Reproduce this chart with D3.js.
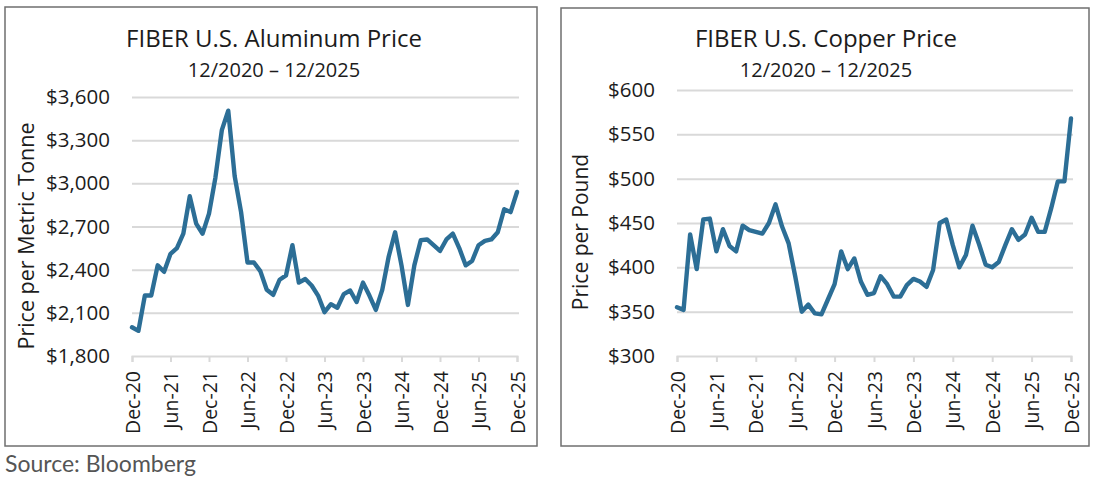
<!DOCTYPE html>
<html>
<head>
<meta charset="utf-8">
<script src="https://cdn.jsdelivr.net/npm/d3@7"></script>
<style>
  body { margin: 0; background: #fff; }
  svg { display: block; }
</style>
</head>
<body>
<div id="charts"></div>
<script>
// month labels Dec-20 .. Dec-25, one per month
const months = d3.timeMonth.range(new Date(2020, 11, 1), new Date(2026, 0, 1)).map(d3.timeFormat("%b-%y"));
const tickLabels = ["Dec-20", "Jun-21", "Dec-21", "Jun-22", "Dec-22", "Jun-23", "Dec-23", "Jun-24", "Dec-24", "Jun-25", "Dec-25"];

// aluminum, $ per metric tonne
const aluminum = [
  2000, 1975, 2220, 2220, 2430, 2385, 2510, 2550, 2650, 2910, 2720, 2650,
  2790, 3040, 3370, 3505, 3050, 2800, 2450, 2450, 2390, 2260, 2225, 2330,
  2360, 2570, 2310, 2335, 2290, 2220, 2105, 2160, 2135, 2230, 2255, 2175,
  2310, 2220, 2120, 2260, 2490, 2660, 2430, 2155, 2430, 2605, 2610, 2570,
  2530, 2610, 2650, 2550, 2430, 2460, 2570, 2600, 2610, 2660, 2820, 2800,
  2940
];
const aluminumTicks = [1800, 2100, 2400, 2700, 3000, 3300, 3600];

// copper, $ per pound
const copper = [
  355, 352, 437, 398, 454, 455, 418, 443, 424, 418, 447, 442,
  440, 438, 450, 471, 446, 427, 390, 350, 358, 348, 347, 364,
  381, 418, 398, 410, 384, 369, 371, 390, 381, 367, 367, 380,
  387, 384, 378, 397, 450, 454, 425, 400, 414, 447, 426, 403,
  400, 406, 425, 443, 431, 437, 456, 440, 440, 467, 497, 497,
  568
];
const copperTicks = [300, 350, 400, 450, 500, 550, 600];

const font = "'Open Sans', 'Liberation Sans', sans-serif";
const ink = "#1c1c1c";

const svg = d3.select("#charts").append("svg")
  .attr("width", 1100)
  .attr("height", 487);

function drawPanel(opts) {
  const g = svg.append("g");

  // panel frame
  g.append("rect")
    .attr("x", opts.box[0]).attr("y", opts.box[1])
    .attr("width", opts.box[2]).attr("height", opts.box[3])
    .attr("fill", "none")
    .attr("stroke", "#6f6f6f")
    .attr("stroke-width", 1.5);

  const x = d3.scalePoint().domain(months).range(opts.xr);
  const y = d3.scaleLinear().domain(d3.extent(opts.ticks)).range(opts.yr);

  // gridlines + y labels
  const yAxis = g.append("g")
    .attr("transform", "translate(" + opts.xr[0] + ",0)")
    .call(d3.axisLeft(y).tickValues(opts.ticks)
      .tickSize(-(opts.xr[1] - opts.xr[0] + 2))
      .tickPadding(22)
      .tickFormat(d3.format("$,")));
  yAxis.select(".domain").remove();
  yAxis.selectAll(".tick line")
    .attr("stroke", "#d9d9d9").attr("stroke-width", 2)
    .filter(d => d === opts.ticks[0]).remove();
  yAxis.selectAll(".tick text")
    .attr("fill", ink)
    .style("font-family", font)
    .style("font-size", "20.5px");

  // x axis
  const xAxis = g.append("g")
    .attr("transform", "translate(0," + opts.yr[0] + ")")
    .call(d3.axisBottom(x).tickValues(tickLabels).tickSize(6).tickPadding(0));
  xAxis.select(".domain").attr("stroke", "#d9d9d9").attr("stroke-width", 2);
  xAxis.selectAll(".tick line").attr("stroke", "#d9d9d9").attr("stroke-width", 2);
  xAxis.selectAll(".tick text")
    .attr("fill", ink)
    .style("font-family", font)
    .style("font-size", "19.5px")
    .attr("transform", "rotate(-90)")
    .attr("text-anchor", "end")
    .attr("x", -15)
    .attr("y", 0)
    .attr("dy", "0.36em");

  // price line
  g.append("path")
    .datum(opts.data)
    .attr("fill", "none")
    .attr("stroke", "#2c6e96")
    .attr("stroke-width", 4.4)
    .attr("stroke-linejoin", "round")
    .attr("stroke-linecap", "round")
    .attr("d", d3.line()
      .x((d, i) => x(months[i]))
      .y(d => y(d)));

  // titles
  g.append("text")
    .attr("x", opts.cx).attr("y", 47)
    .attr("text-anchor", "middle")
    .attr("fill", ink)
    .style("font-family", font)
    .style("font-size", "24px")
    .text(opts.title);
  g.append("text")
    .attr("x", opts.cx).attr("y", 77)
    .attr("text-anchor", "middle")
    .attr("fill", ink)
    .style("font-family", font)
    .style("font-size", "20px")
    .text("12/2020 \u2013 12/2025");

  g.append("text")
    .attr("transform", "translate(" + opts.ytx + "," + opts.yty + ") rotate(-90)")
    .attr("text-anchor", "middle")
    .attr("fill", ink)
    .style("font-family", font)
    .style("font-size", opts.ysize)
    .text(opts.ylabel);
}

drawPanel({
  box: [5, 7, 532, 439],
  xr: [132, 517],
  yr: [356, 97],
  ticks: aluminumTicks,
  data: aluminum,
  cx: 274,
  title: "FIBER U.S. Aluminum Price",
  ylabel: "Price per Metric Tonne",
  ysize: "21.5px",
  ytx: 34, yty: 236
});

drawPanel({
  box: [561, 8, 528, 438],
  xr: [677, 1071],
  yr: [356, 90],
  ticks: copperTicks,
  data: copper,
  cx: 826,
  title: "FIBER U.S. Copper Price",
  ylabel: "Price per Pound",
  ysize: "21px",
  ytx: 588, yty: 232
});

svg.append("text")
  .attr("x", 5).attr("y", 472)
  .attr("fill", "#555")
  .style("font-family", "Lato, 'Open Sans', sans-serif")
  .style("font-size", "23px")
  .text("Source: Bloomberg");
</script>
</body>
</html>
